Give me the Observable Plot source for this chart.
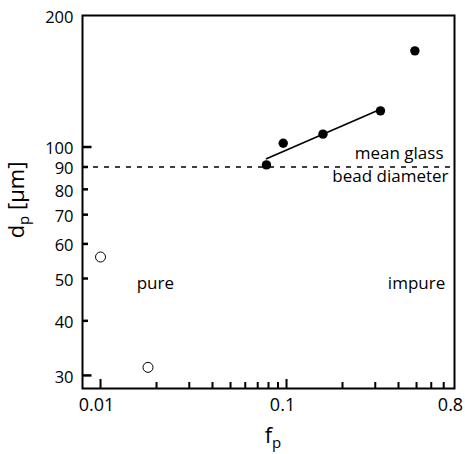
<!DOCTYPE html>
<html>
<head>
<meta charset="utf-8">
<script src="https://cdn.jsdelivr.net/npm/d3@7"></script>
<script src="https://cdn.jsdelivr.net/npm/@observablehq/plot@0.6"></script>
<style>
  html, body { margin: 0; padding: 0; background: #fff; }
  #chart svg { display: block; }
</style>
</head>
<body>
<div id="chart"></div>
<script>
// Data
const pureFp = [0.01, 0.018];
const pureDp = [56, 31.3];
const impureFp = [0.078, 0.096, 0.157, 0.32, 0.49];
const impureDp = [91, 102, 107, 121, 166];
const fitFp = [0.078, 0.32];
const fitDp = [94, 122];
const glassBead = [90];

// Ticks
const xMajorTicks = [0.01, 0.1];
const xMinorTicks = [0.02, 0.03, 0.04, 0.05, 0.06, 0.07, 0.08, 0.09, 0.2, 0.3, 0.4, 0.5, 0.6, 0.7];
const xTickLabels = [0.01, 0.1, 0.8];
const yMajorTicks = [30, 100];
const yMinorTicks = [40, 50, 60, 70, 80, 90];
const yTickLabels = [30, 40, 50, 60, 70, 80, 90, 100, 200];

const pure = pureFp.map((f, i) => ({f, d: pureDp[i]}));
const impure = impureFp.map((f, i) => ({f, d: impureDp[i]}));
const fit = fitFp.map((f, i) => ({f, d: fitDp[i]}));

const chart = Plot.plot({
  width: 465,
  height: 454,
  marginLeft: 82,
  marginRight: 11,
  marginTop: 15,
  marginBottom: 66,
  style: {fontFamily: "'Open Sans', sans-serif", fontSize: "17px", color: "#000", background: "#fff"},
  x: {type: "log", domain: [0.008, 0.8], axis: null},
  y: {type: "log", domain: [28, 200], axis: null},
  marks: [
    Plot.ruleY(glassBead, {strokeDasharray: "5,6", strokeWidth: 1.5}),
    Plot.line(fit, {x: "f", y: "d", strokeWidth: 1.7}),
    Plot.dot(impure, {x: "f", y: "d", r: 4.7, fill: "#000", stroke: "none"}),
    Plot.dot(pure, {x: "f", y: "d", r: 5, fill: "#fff", stroke: "#000", strokeWidth: 1}),
    Plot.axisX({ticks: xMinorTicks, tickSize: -6, strokeWidth: 2, tickFormat: () => "", label: null}),
    Plot.axisX({ticks: xMajorTicks, tickSize: -9, strokeWidth: 2, tickFormat: () => "", label: null}),
    Plot.axisY({ticks: yMinorTicks, tickSize: -6, strokeWidth: 2.5, tickFormat: () => "", label: null}),
    Plot.axisY({ticks: yMajorTicks, tickSize: -9.5, strokeWidth: 2.5, tickFormat: () => "", label: null}),
    // tick labels
    Plot.text(xTickLabels, {x: d => d, frameAnchor: "bottom", lineAnchor: "top", dy: 10, dx: -4, text: d => String(d), fontSize: 18}),
    Plot.text(yTickLabels, {y: d => d, frameAnchor: "left", textAnchor: "end", dx: -9, dy: 2, text: d => String(d), fontSize: 16.5}),
    // annotations
    Plot.text(["pure"], {x: 0.0197, y: 48.7, text: d => d, fontSize: 17}),
    Plot.text(["impure"], {x: 0.5, y: 48.7, text: d => d, fontSize: 17}),
    Plot.text(["mean glass"], {x: 0.8, y: 90, text: d => d, textAnchor: "end", dx: -11, dy: -13, fontSize: 17}),
    Plot.text(["bead diameter"], {x: 0.8, y: 90, text: d => d, textAnchor: "end", dx: -6, dy: 10, fontSize: 17}),
    Plot.frame({strokeWidth: 2})
  ]
});

document.getElementById("chart").appendChild(chart);

const svg = d3.select(chart);

// y-axis title with subscript
const yt = svg.append("text")
  .attr("transform", "translate(24,200) rotate(-90)")
  .attr("text-anchor", "middle")
  .attr("fill", "#000")
  .style("font-size", "22px");
yt.append("tspan").text("d");
yt.append("tspan").attr("dy", 5).style("font-size", "15px").text("p");
yt.append("tspan").attr("dy", -5).text(" [μm]");

// x-axis title with subscript
const xt = svg.append("text")
  .attr("x", 273)
  .attr("y", 443)
  .attr("text-anchor", "middle")
  .attr("fill", "#000")
  .style("font-size", "22px");
xt.append("tspan").text("f");
xt.append("tspan").attr("dy", 5).style("font-size", "15px").text("p");
</script>
</body>
</html>
